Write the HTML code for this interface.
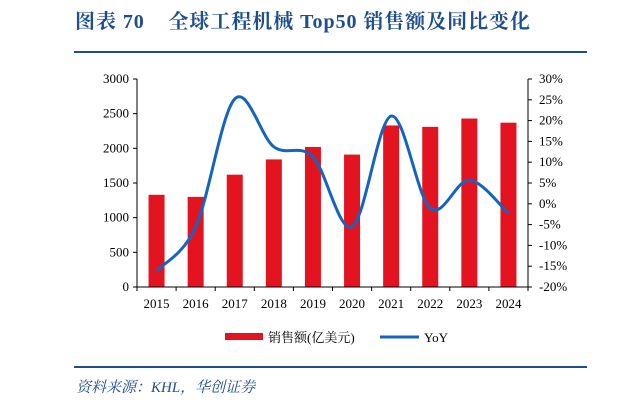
<!DOCTYPE html>
<html><head><meta charset="utf-8"><style>
body{margin:0;background:#fff;width:620px;height:407px;overflow:hidden;font-family:"Liberation Serif","Noto Serif CJK SC",serif;}
</style></head><body>
<svg width="620" height="407">
<text x="75" y="28" font-size="20" font-weight="bold" fill="#1f4e8c" textLength="455" lengthAdjust="spacing" style="white-space:pre" font-family="'Liberation Serif','Noto Serif CJK SC',serif">图表 70    全球工程机械 Top50 销售额及同比变化</text>
<line x1="74" y1="52" x2="587" y2="52" stroke="#1f4e8c" stroke-width="2"/>
<line x1="74" y1="367" x2="587" y2="367" stroke="#1f4e8c" stroke-width="2"/>
<text x="76" y="392" font-size="15" font-style="italic" fill="#1f4e8c">资料来源：KHL，华创证券</text>
<g id="plot"></g>
<g>
<rect x="225" y="333" width="38" height="7" fill="#e3141f"/>
<text x="268" y="342" font-size="13" fill="#000">销售额(亿美元)</text>
<line x1="380" y1="337" x2="419" y2="337" stroke="#1565c0" stroke-width="3"/>
<text x="424" y="342" font-size="13" fill="#000">YoY</text>
</g>
</svg>
<script>
const categories=["2015","2016","2017","2018","2019","2020","2021","2022","2023","2024"];
const sales=[1330,1300,1620,1840,2020,1910,2330,2310,2430,2370];
const yoy=[-16.1,-5.6,25.2,13.7,11.3,-5.5,21.1,-1.1,5.7,-2.3];
const leftTicks=[0,500,1000,1500,2000,2500,3000];
const rightTicks=[-20,-15,-10,-5,0,5,10,15,20,25,30];
const NS="http://www.w3.org/2000/svg";
const g=document.getElementById("plot");
const X0=137,X1=528,Y0=287,Y1=79;
const band=(X1-X0)/categories.length;
const xC=i=>X0+band*(i+0.5);
const yL=v=>Y0-(v/3000)*(Y0-Y1);
const yR=v=>Y0-((v+20)/50)*(Y0-Y1);
function mk(t,a){const e=document.createElementNS(NS,t);for(const k in a)e.setAttribute(k,a[k]);g.appendChild(e);return e;}
sales.forEach((v,i)=>{
const r=mk("rect",{x:xC(i)-8,y:yL(v),width:16,height:Y0-yL(v),fill:"#e3141f"});


});
let ax=mk("path",{d:`M${X0} ${Y1}V${Y0}H${X1}V${Y1}`,stroke:"#000",fill:"none","stroke-width":1});


leftTicks.forEach(v=>{
mk("line",{x1:X0-4,x2:X0,y1:yL(v),y2:yL(v),stroke:"#000"});
const t=mk("text",{x:X0-8,y:yL(v)+4,"font-size":13,"text-anchor":"end"});t.textContent=v;


});
rightTicks.forEach(v=>{
mk("line",{x1:X1,x2:X1+4,y1:yR(v),y2:yR(v),stroke:"#000"});
const t=mk("text",{x:X1+11,y:yR(v)+4,"font-size":13});t.textContent=v+"%";


});
categories.forEach((c,i)=>{
mk("line",{x1:X0+band*i,x2:X0+band*i,y1:Y0,y2:Y0+4,stroke:"#000"});
const t=mk("text",{x:xC(i),y:308,"font-size":13,"text-anchor":"middle"});t.textContent=c;


});
mk("line",{x1:X1,x2:X1,y1:Y0,y2:Y0+4,stroke:"#000"});
const pts=yoy.map((v,i)=>[xC(i),yR(v)]);
let d=`M${pts[0][0]} ${pts[0][1]}`;
for(let i=0;i<pts.length-1;i++){
const p0=pts[Math.max(i-1,0)],p1=pts[i],p2=pts[i+1],p3=pts[Math.min(i+2,pts.length-1)];
d+=`C${p1[0]+(p2[0]-p0[0])/6} ${p1[1]+(p2[1]-p0[1])/6} ${p2[0]-(p3[0]-p1[0])/6} ${p2[1]-(p3[1]-p1[1])/6} ${p2[0]} ${p2[1]}`;
}
const ln=mk("path",{d:d,stroke:"#1565c0","stroke-width":3,fill:"none"});


</script>
</body></html>
